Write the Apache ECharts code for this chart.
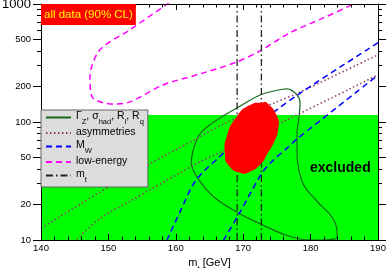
<!DOCTYPE html>
<html><head><meta charset="utf-8">
<script src="https://cdn.jsdelivr.net/npm/echarts@6/dist/echarts.min.js"></script>
<style>html,body{margin:0;padding:0;background:#fff}#c{width:387px;height:268px}</style>
</head><body><div id="c"></div>
<script>
const FF = 'Liberation Sans, Arial, sans-serif';
// axes
const mtMin = 140, mtMax = 190, mtStep = 10;
const mhMin = 10, mhMax = 1000;
const yLabelVals = [10, 20, 50, 100, 200, 500, 1000];
const yMinorVals = [30, 40, 60, 70, 80, 90, 300, 400, 600, 700, 800, 900];
// LEP direct search limit (excluded region below)
const lepLimit = 114.4;
// m_t measurement band edges
const mtBand = [169.1, 172.7];
// contours [mt, MH]
const zContour = [[162.26,44.0],[162.55,56.8],[163.59,79.1],[166.11,104],[169.08,131.5],[172.49,169.5],[174.57,183],[176.5,190.5],[177.98,169.5],[178.43,145],[178.28,110],[177.98,80.7],[177.98,65.1],[178.72,31.5],[180.95,21.3],[183.18,15.6],[183.92,11.86],[183.92,10.5],[182.88,10.1],[180.2,10.0],[176.94,10.7],[172.05,14.1],[169.08,17.2],[165.52,23.5],[163.15,34.1],[162.26,44.0]];
const asymUpper = [[140,12.58],[150.24,28.6],[155.68,42.7],[163.59,75.0],[167.3,97.5],[174.47,144.2],[177.94,174.0],[190,371]];
const asymLower = [[145.34,10.14],[148.75,15.2],[153.2,21.3],[163.59,46.0],[167.3,57.8],[174.97,94.3],[190,250.7]];
const mwUpper = [[158.65,9.9],[160.62,17.3],[162.6,29.7],[164.33,39.1],[166.31,49.4],[167.79,59.8],[174.97,126.5],[178.43,175.3],[190.04,471.8]];
const mwLower = [[167.05,9.9],[169.27,16.2],[172.75,36.7],[174.47,47.5],[176.45,59.8],[177.98,71.7],[190.04,250.7]];
const lowEnergy = [[159.0,1026],[153.2,605],[148.75,409],[147.27,241],[147.57,163],[150.68,142],[153.2,148],[158.1,206],[163.15,251],[169.08,323],[172.49,401],[176.94,570],[181.99,766],[185.85,968],[186.6,1026]];
const allData = [[172.98,147],[173.49,146],[175.06,111],[175.2,88],[174.72,70.3],[173.49,52.5],[172.6,44],[171.0,37.9],[169.53,37.1],[167.79,43.2],[167.3,54.2],[167.55,75],[169.04,111],[171.0,139]];

const names = {gz:'{n|Γ}{s|Z}{n|, σ}{s|had}{n|, R}{s|l}{n|, R}{s|q}', asym:'{n|asymmetries}', mw:'{n|M}{s|W}', lowe:'{n|low-energy}', mt:'{n|m}{s|t}'};

const chart = echarts.init(document.getElementById('c'), null, {renderer:'canvas'});
const lineBase = {type:'line', symbol:'none', showSymbol:false, silent:true, clip:true, z:3, animation:false};
const subRich = {
  n:{fontFamily:FF, fontSize:10.5, lineHeight:13, verticalAlign:'top', color:'#000'},
  s:{fontFamily:FF, fontSize:7.5, lineHeight:8, verticalAlign:'top', padding:[7,0,0,0], color:'#000'}
};
const nameRich = {
  i:{fontFamily:FF, fontSize:11, lineHeight:13, verticalAlign:'top', color:'#000'},
  s:{fontFamily:FF, fontSize:8, lineHeight:8, verticalAlign:'top', padding:[7,0,0,0], color:'#000'}
};
const tickLS = {color:'#000', width:1};
const xCommon = {type:'value', min:mtMin, max:mtMax, interval:mtStep, splitLine:{show:false}, z:10,
  axisLine:{show:true, onZero:false, lineStyle:tickLS}};
const yCommon = {type:'log', logBase:10, min:mhMin, max:mhMax, splitLine:{show:false}, z:10};

chart.setOption({
  animation:false,
  grid:{left:41, right:9, top:4, bottom:28, containLabel:false, outerBoundsMode:'none'},
  title:{text:'all data (90% CL)', left:41, top:4, backgroundColor:'#ff0000', padding:[4,3,4,3], z:20,
    textStyle:{color:'#ffff00', fontSize:11.5, fontWeight:'normal', fontFamily:FF, lineHeight:13}},
  legend:{data:['gz','asym','mw','lowe','mt'], orient:'vertical', left:41, top:110,
    backgroundColor:'#dcdcdc', borderColor:'#666', borderWidth:1, padding:[1,4,3,4],
    itemWidth:25, itemHeight:10, itemGap:0.5, selectedMode:false, z:20,
    itemStyle:{opacity:0},
    formatter:n => names[n], textStyle:{fontFamily:FF, fontSize:10.5, lineHeight:13, color:'#000', rich:subRich}},
  xAxis:[
    Object.assign({}, xCommon, {position:'bottom', name:'{i|m}{s|t}{i| [GeV]}', nameLocation:'middle', nameGap:10,
      nameTextStyle:{rich:nameRich},
      axisTick:{show:true, inside:true, length:6, lineStyle:tickLS},
      minorTick:{show:true, splitNumber:5, length:3.5, lineStyle:tickLS},
      axisLabel:{show:true, fontFamily:FF, fontSize:9.5, color:'#000', margin:3}}),
    Object.assign({}, xCommon, {position:'top',
      axisTick:{show:true, inside:true, length:6, lineStyle:tickLS},
      minorTick:{show:true, splitNumber:5, length:3.5, lineStyle:tickLS},
      axisLabel:{show:false}})
  ],
  yAxis:[
    Object.assign({}, yCommon, {position:'left', name:'{i|M}{s|H}{i| [GeV]}', nameLocation:'middle', nameGap:28,
      nameTextStyle:{rich:nameRich},
      axisLine:{show:true, onZero:false, lineStyle:tickLS},
      axisTick:{show:true, inside:false, length:8, customValues:yLabelVals, lineStyle:tickLS},
      axisLabel:{show:true, customValues:yLabelVals, fontFamily:FF, fontSize:9.5, color:'#000', margin:10,
        formatter:v => (v === 1000 ? '{b|1000}' : String(v)),
        rich:{b:{fontFamily:FF, fontSize:13, color:'#000'}}}}),
    Object.assign({}, yCommon, {position:'right',
      axisLine:{show:true, onZero:false, lineStyle:tickLS},
      axisTick:{show:true, inside:false, length:8, customValues:yLabelVals, lineStyle:tickLS},
      axisLabel:{show:false}}),
    Object.assign({}, yCommon, {position:'left', offset:0,
      axisLine:{show:false},
      axisTick:{show:true, inside:false, length:4, customValues:yMinorVals, lineStyle:tickLS},
      axisLabel:{show:false}}),
    Object.assign({}, yCommon, {position:'right', offset:0,
      axisLine:{show:false},
      axisTick:{show:true, inside:false, length:4, customValues:yMinorVals, lineStyle:tickLS},
      axisLabel:{show:false}})
  ],
  graphic:[{type:'text', left:310, top:161, z:20, style:{text:'excluded', font:'bold 14px '+FF, fill:'#000'}}],
  series:[
    {type:'custom', name:'excl', silent:true, z:1, clip:true,
      data:[[mtMin, mhMin, mtMax, lepLimit]], encode:{x:[0,2], y:[1,3]},
      renderItem:(params, api) => {
        const p1 = api.coord([api.value(0), api.value(1)]);
        const p2 = api.coord([api.value(2), api.value(3)]);
        return {type:'rect', shape:{x:p1[0], y:p2[1], width:p2[0]-p1[0], height:p1[1]-p2[1]}, style:{fill:'#00ff00'}};
      }},
    Object.assign({}, lineBase, {name:'gz', data:zContour, smooth:0.4, lineStyle:{color:'#15691a', width:1.2}, itemStyle:{color:'#15691a'}}),
    Object.assign({}, lineBase, {name:'asym', data:asymUpper, smooth:0.3, lineStyle:{color:'#8b3a6b', width:1.5, type:[1.5,2.5]}, itemStyle:{color:'#8b3a6b'}}),
    Object.assign({}, lineBase, {name:'asym', data:asymLower, smooth:0.3, lineStyle:{color:'#8b3a6b', width:1.5, type:[1.5,2.5]}, itemStyle:{color:'#8b3a6b'}}),
    Object.assign({}, lineBase, {name:'mw', data:mwUpper, smooth:0.3, lineStyle:{color:'#0000ff', width:1.5, type:[6,4]}, itemStyle:{color:'#0000ff'}}),
    Object.assign({}, lineBase, {name:'mw', data:mwLower, smooth:0.3, lineStyle:{color:'#0000ff', width:1.5, type:[6,4]}, itemStyle:{color:'#0000ff'}}),
    Object.assign({}, lineBase, {name:'lowe', data:lowEnergy, smooth:0.3, lineStyle:{color:'#ff00ff', width:1.5, type:[6,4]}, itemStyle:{color:'#ff00ff'}}),
    Object.assign({}, lineBase, {name:'mt', data:[[mtBand[0], mhMin],[mtBand[0], mhMax]], lineStyle:{color:'#222', width:1.3, type:[7,3,1.5,3]}, itemStyle:{color:'#222'}}),
    Object.assign({}, lineBase, {name:'mt', data:[[mtBand[1], mhMin],[mtBand[1], mhMax]], lineStyle:{color:'#222', width:1.3, type:[7,3,1.5,3]}, itemStyle:{color:'#222'}}),
    {type:'custom', name:'all', silent:true, z:5, clip:true,
      data:allData,
      renderItem:(params, api) => {
        if (params.dataIndex !== 0) return null;
        const pts = allData.map(p => api.coord(p));
        return {type:'polygon', shape:{points:pts, smooth:0.6}, style:{fill:'#ff0000'}};
      }}
  ]
});
</script></body></html>
